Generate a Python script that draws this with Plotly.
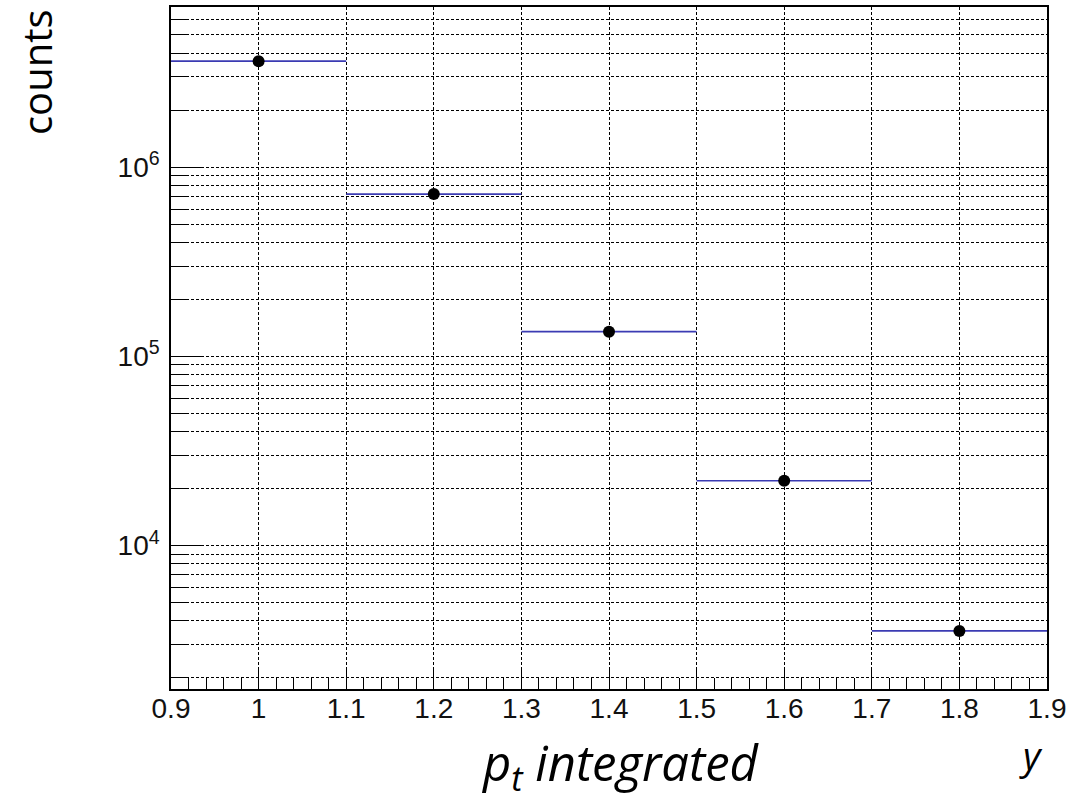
import plotly.graph_objects as go

# Data
y_centers = [1.0, 1.2, 1.4, 1.6, 1.8]
half_width = [0.1, 0.1, 0.1, 0.1, 0.1]
counts = [3.63e6, 7.2e5, 1.35e5, 2.2e4, 3.54e3]

x_ticks = [0.9, 1.0, 1.1, 1.2, 1.3, 1.4, 1.5, 1.6, 1.7, 1.8, 1.9]
x_ticktext = ["0.9", "1", "1.1", "1.2", "1.3", "1.4", "1.5", "1.6", "1.7", "1.8", "1.9"]
y_major = [1e4, 1e5, 1e6]
y_major_text = ["10<sup>4</sup>", "10<sup>5</sup>", "10<sup>6</sup>"]
y_minor = [m * 10 ** e for e in range(3, 7) for m in range(2, 10)]

fig = go.Figure()
fig.add_trace(go.Scatter(
    x=y_centers, y=counts, mode="markers",
    marker=dict(color="black", size=12),
    error_x=dict(type="data", array=half_width, color="#3b3bb3", thickness=1.6, width=0),
    showlegend=False,
))

tickfont = dict(family="Liberation Sans, Arial", size=28, color="#111111")
fig.update_xaxes(
    range=[0.9, 1.9], tickmode="array", tickvals=x_ticks, ticktext=x_ticktext,
    ticks="inside", ticklen=22, tickwidth=1.3, tickcolor="black",
    showline=True, linecolor="black", linewidth=1.5, mirror=True,
    showgrid=True, gridcolor="black", gridwidth=1, griddash="3px,2px",
    zeroline=False, tickfont=tickfont, ticklabelstandoff=-6,
    minor=dict(dtick=0.02, tick0=0.9, ticks="inside", ticklen=11, tickcolor="black", tickwidth=1.3, showgrid=False),
)
fig.update_yaxes(
    type="log", range=[3.242, 6.846], tickmode="array", tickvals=y_major, ticktext=y_major_text,
    ticks="inside", ticklen=30, tickwidth=1.3, tickcolor="black",
    showline=True, linecolor="black", linewidth=1.5, mirror=True,
    showgrid=True, gridcolor="black", gridwidth=1, griddash="3px,2px",
    zeroline=False, tickfont=tickfont, ticklabelstandoff=4,
    minor=dict(tickmode="array", tickvals=y_minor, ticks="inside", ticklen=16, tickcolor="black", tickwidth=1.3,
               showgrid=True, gridcolor="black", gridwidth=1, griddash="3px,2px"),
)

fig.add_annotation(text="counts", xref="paper", yref="paper", x=-0.154, y=1.0, xanchor="center", yanchor="top",
                   textangle=-90, showarrow=False, font=dict(family="Open Sans", size=40, color="black"))
fig.add_annotation(text="<i>p<sub>t</sub> integrated</i>", xref="paper", yref="paper", x=0.513, y=-0.056,
                   xanchor="center", yanchor="top", showarrow=False,
                   font=dict(family="Open Sans", size=49, color="black"))
fig.add_annotation(text="<i>y</i>", xref="paper", yref="paper", x=0.982, y=-0.055,
                   xanchor="center", yanchor="top", showarrow=False,
                   font=dict(family="Open Sans", size=38, color="black"))

fig.update_layout(
    width=1088, height=800, plot_bgcolor="white", paper_bgcolor="white",
    margin=dict(l=171, r=41, t=5, b=111),
)
fig.write_html("out.html")
